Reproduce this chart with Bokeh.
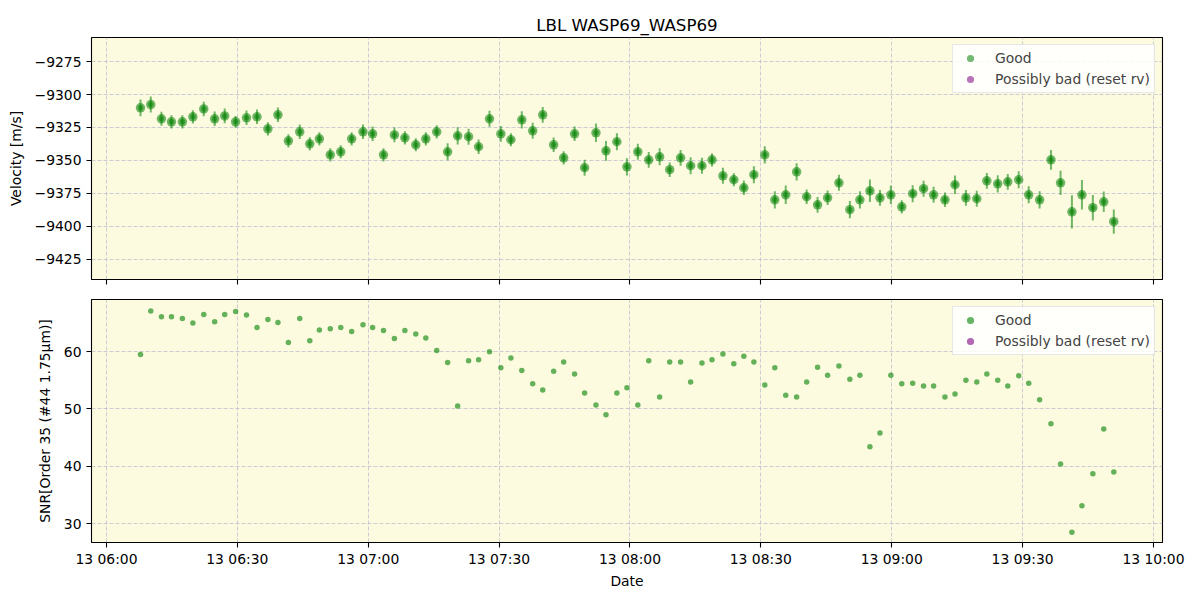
import pandas as pd
from bokeh.plotting import figure
from bokeh.layouts import column
from bokeh.models import (ColumnDataSource, Range1d, FixedTicker, SingleIntervalTicker,
                          DatetimeTickFormatter, CustomJSTickFormatter, Legend, LegendItem)
from bokeh.embed import file_html
from bokeh.resources import INLINE

DAY = "2024-01-13"
times = [
    "06:07:48", "06:10:09", "06:12:36", "06:14:54", "06:17:24", "06:19:48", "06:22:18", "06:24:48",
    "06:27:06", "06:29:36", "06:32:06", "06:34:30", "06:37:00", "06:39:18", "06:41:42", "06:44:18",
    "06:46:36", "06:48:48", "06:51:18", "06:53:42", "06:56:12", "06:58:48", "07:01:00", "07:03:30",
    "07:06:00", "07:08:24", "07:10:54", "07:13:12", "07:15:42", "07:18:12", "07:20:30", "07:23:00",
    "07:25:18", "07:27:48", "07:30:24", "07:32:42", "07:35:12", "07:37:42", "07:40:00", "07:42:30",
    "07:44:48", "07:47:18", "07:49:36", "07:52:12", "07:54:30", "07:57:00", "07:59:18", "08:01:48",
    "08:04:18", "08:06:48", "08:09:06", "08:11:36", "08:13:54", "08:16:30", "08:18:48", "08:21:18",
    "08:23:48", "08:26:06", "08:28:24", "08:30:54", "08:33:12", "08:35:42", "08:38:12", "08:40:30",
    "08:43:00", "08:45:18", "08:47:54", "08:50:24", "08:52:42", "08:55:00", "08:57:18", "08:59:48",
    "09:02:18", "09:04:48", "09:07:18", "09:09:36", "09:12:12", "09:14:30", "09:17:00", "09:19:30",
    "09:21:48", "09:24:18", "09:26:36", "09:29:06", "09:31:24", "09:33:54", "09:36:30", "09:38:42",
    "09:41:18", "09:43:36", "09:46:06", "09:48:36", "09:50:54",
]
velocity = [
    -9310.1, -9307.6, -9318.4, -9320.7, -9320.7, -9316.9, -9310.9, -9318.4, -9316.2, -9320.7,
    -9317.7, -9316.9, -9326.0, -9315.4, -9335.1, -9328.3, -9337.4, -9333.6, -9345.7, -9343.4,
    -9333.6, -9328.3, -9329.8, -9345.7, -9330.6, -9332.8, -9338.1, -9333.6, -9328.3, -9343.4,
    -9331.3, -9332.0, -9339.6, -9318.4,
    -9329.8, -9334.3, -9319.2, -9327.5, -9315.4, -9338.1, -9348.0, -9329.8, -9355.5, -9329.0,
    -9342.7, -9335.8, -9354.8, -9343.4, -9349.5, -9347.2, -9357.0, -9348.0, -9354.0, -9354.0,
    -9349.5, -9361.6, -9364.6, -9370.7, -9360.8, -9345.7, -9379.8, -9376.0, -9358.6, -9377.5,
    -9383.6, -9378.3, -9366.9, -9387.3, -9379.8, -9373.0, -9378.3,
    -9376.0, -9385.1, -9375.2, -9371.4, -9376.0, -9379.8, -9368.4, -9378.3, -9379.0, -9365.4,
    -9367.7, -9366.2, -9364.6, -9376.0, -9379.8, -9349.5, -9366.9, -9388.9, -9376.0, -9385.8,
    -9381.3, -9396.4,
]
velocity_err = [
    6.3, 6.0, 5.3, 5.0, 5.0, 5.0, 5.5, 5.5, 5.5, 4.5, 5.5, 5.5, 5.0, 5.5, 5.0, 5.5, 5.0, 5.0, 5.0, 5.0,
    5.0, 5.5, 5.5, 5.0, 5.5, 5.0, 5.0, 5.0, 5.0, 6.5, 6.5, 6.0, 5.5, 6.0,
    6.0, 5.0, 6.5, 6.0, 6.0, 5.5, 5.0, 5.5, 6.0, 7.0, 7.5, 6.5, 6.5, 6.0, 6.0, 6.5, 5.5, 6.0, 6.5, 6.0,
    5.0, 6.0, 5.0, 5.5, 6.5, 6.5, 6.5, 7.0, 6.5, 5.5, 6.0, 5.5, 6.0, 6.5, 6.5, 8.5, 6.0,
    7.0, 5.0, 6.5, 6.0, 6.0, 5.5, 7.0, 6.0, 6.0, 6.0, 6.5, 6.0, 6.5, 6.5, 6.5, 7.5, 9.2, 12.6, 11.2, 9.6,
    7.8, 9.2,
]
snr = [
    59.5, 67.1, 66.1, 66.1, 65.8, 65.0, 66.5, 65.2, 66.5, 67.0, 66.4, 64.2, 65.6, 65.1, 61.6, 65.8,
    61.9, 63.8, 64.0, 64.2, 63.5, 64.7, 64.2, 63.7, 62.3, 63.7, 63.1, 62.4, 60.2, 58.1, 50.5, 58.4,
    58.6, 60.0,
    57.2, 58.9, 56.7, 54.4, 53.3, 56.6, 58.2, 56.1, 52.8, 50.7, 49.0, 52.8, 53.7, 50.7, 58.4, 52.1,
    58.2, 58.2, 54.7, 58.0, 58.6, 59.6, 57.9, 59.2, 58.2, 54.2, 57.2, 52.4, 52.1, 54.7, 57.3, 55.9,
    57.5, 55.2, 55.9, 43.4, 45.8,
    55.9, 54.4, 54.5, 54.0, 54.0, 52.1, 52.6, 55.0, 54.7, 56.1, 55.0, 54.0, 55.8, 54.5, 51.6, 47.4,
    40.4, 28.5, 33.1, 38.7, 46.5, 39.0,
]
x_ticks = ["06:00", "06:30", "07:00", "07:30", "08:00", "08:30", "09:00", "09:30", "10:00"]
x_start, x_end = "05:56:34", "10:02:04"
vel_lim = (-9440.2, -9256.8)
snr_lim = (26.7, 69.1)

t = pd.to_datetime([f"{DAY} {s}" for s in times])
src = ColumnDataSource(dict(
    t=t, v=velocity,
    lo=[v - e for v, e in zip(velocity, velocity_err)],
    hi=[v + e for v, e in zip(velocity, velocity_err)],
    snr=snr,
))
# "Possibly bad" points: none in this dataset (NaN placeholder keeps the legend glyph)
bad_src = ColumnDataSource(dict(t=[float("nan")], v=[float("nan")], snr=[float("nan")]))

xr = Range1d(pd.Timestamp(f"{DAY} {x_start}"), pd.Timestamp(f"{DAY} {x_end}"))
tick_ms = [pd.Timestamp(f"{DAY} {s}").value / 1e6 for s in x_ticks]

FONT = "DejaVu Sans"
FS = "13.9px"
GOOD = "green"
BAD = "purple"
BG = "#fcfbe0"
GRID = "#b8b8cc"

minus_fmt = CustomJSTickFormatter(code="return (tick < 0 ? '\u2212' : '') + Math.abs(tick).toFixed(0);")
blank_fmt = CustomJSTickFormatter(code="return '';")


def style(p, ylabel, show_x_labels):
    p.background_fill_color = BG
    p.border_fill_color = "white"
    p.outline_line_color = "black"
    p.outline_line_width = 1.1
    for ax in (p.xaxis[0], p.yaxis[0]):
        ax.axis_line_color = None
        ax.major_tick_line_color = "black"
        ax.major_tick_line_width = 1.1
        ax.major_tick_out = 5
        ax.major_tick_in = 0
        ax.minor_tick_line_color = None
        ax.major_label_text_font = FONT
        ax.major_label_text_font_size = FS
        ax.major_label_text_color = "black"
        ax.axis_label_text_font = FONT
        ax.axis_label_text_font_size = FS
        ax.axis_label_text_font_style = "normal"
        ax.axis_label_text_color = "black"
    p.yaxis[0].axis_label = ylabel
    p.yaxis[0].major_label_standoff = 5
    p.yaxis[0].axis_label_standoff = 8
    p.xaxis[0].ticker = FixedTicker(ticks=tick_ms)
    if not show_x_labels:
        p.xaxis[0].formatter = blank_fmt
        p.xaxis[0].major_label_standoff = 0
    else:
        p.xaxis[0].formatter = DatetimeTickFormatter(minutes="%d %H:%M", hours="%d %H:%M",
                                                     hourmin="%d %H:%M", days="%d %H:%M")
        p.xaxis[0].axis_label = "Date"
        p.xaxis[0].major_label_standoff = 3
        p.xaxis[0].axis_label_standoff = 3
    for g in (p.xgrid[0], p.ygrid[0]):
        g.grid_line_color = GRID
        g.grid_line_alpha = 0.7
        g.grid_line_dash = "4 2"
        g.grid_line_width = 1


def make_legend(p, items):
    leg = Legend(items=items, location="top_right", margin=7, padding=4, spacing=3,
                 label_height=18, glyph_width=26, glyph_height=18, label_standoff=12,
                 label_text_font=FONT, label_text_font_size=FS,
                 border_line_color="#d0d0d0", border_line_width=1,
                 background_fill_color="white", background_fill_alpha=0.85)
    p.add_layout(leg)


# ---- top: velocity ----
p1 = figure(width=1200, height=289, x_axis_type="datetime", x_range=xr,
            y_range=Range1d(*vel_lim), output_backend="svg", toolbar_location=None,
            min_border_left=91, min_border_right=38, min_border_top=37, min_border_bottom=10,
            title="LBL WASP69_WASP69")
p1.title.align = "center"
p1.title.text_font = FONT
p1.title.text_font_size = "16.7px"
p1.title.text_font_style = "normal"
p1.title.text_color = "black"
p1.title.standoff = 6
style(p1, "Velocity [m/s]", False)
p1.yaxis[0].ticker = SingleIntervalTicker(interval=25)
p1.yaxis[0].formatter = minus_fmt

p1.segment(x0="t", y0="lo", x1="t", y1="hi", source=src, line_color=GOOD, line_alpha=0.55, line_width=2)
r_good = p1.scatter(x="t", y="v", source=src, size=9.5, fill_color=GOOD, line_color=None,
                    fill_alpha=0.55)
p1.scatter(x="t", y="v", source=src, size=5.5, fill_color=GOOD, line_color=None, fill_alpha=0.5)
r_bad = p1.scatter(x="t", y="v", source=bad_src, size=9.5, fill_color=BAD, line_color=None,
                   fill_alpha=0.55)
make_legend(p1, [LegendItem(label="Good", renderers=[r_good]),
                 LegendItem(label="Possibly bad (reset rv)", renderers=[r_bad])])

# ---- bottom: SNR ----
p2 = figure(width=1200, height=311, x_axis_type="datetime", x_range=xr,
            y_range=Range1d(*snr_lim), output_backend="svg", toolbar_location=None,
            min_border_left=91, min_border_right=38, min_border_top=10, min_border_bottom=58)
style(p2, "SNR[Order 35 (#44 1.75µm)]", True)
p2.yaxis[0].ticker = SingleIntervalTicker(interval=10)

s_good = p2.scatter(x="t", y="snr", source=src, size=5.5, fill_color=GOOD, line_color=None,
                    fill_alpha=0.6)
s_bad = p2.scatter(x="t", y="snr", source=bad_src, size=5.5, fill_color=BAD, line_color=None,
                   fill_alpha=0.6)
make_legend(p2, [LegendItem(label="Good", renderers=[s_good]),
                 LegendItem(label="Possibly bad (reset rv)", renderers=[s_bad])])

layout = column(p1, p2, spacing=0)
with open("out.html", "w") as f:
    f.write(file_html(layout, INLINE))
